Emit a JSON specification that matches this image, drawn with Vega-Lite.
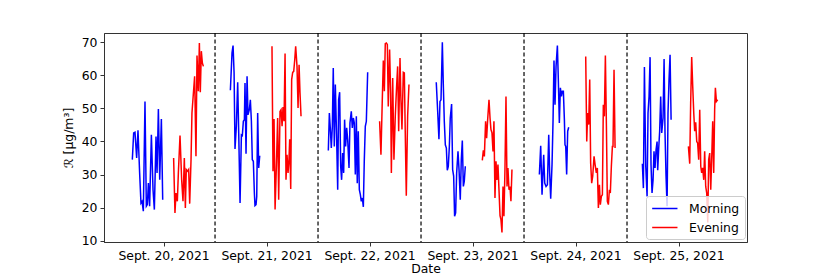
{
  "$schema": "https://vega.github.io/schema/vega-lite/v6.json",
  "width": 643,
  "height": 209,
  "autosize": {"type": "none"},
  "padding": {"left": 104, "top": 33, "right": 83, "bottom": 35},
  "background": "white",
  "config": {
    "font": "DejaVu Sans",
    "view": {"stroke": "#333", "strokeWidth": 1},
    "axis": {"labelFont": "DejaVu Sans", "titleFont": "DejaVu Sans", "labelFontSize": 12.4, "titleFontSize": 12.4, "labelColor": "#000", "titleColor": "#000", "titleFontWeight": "normal", "domainColor": "#333", "tickColor": "#333", "tickSize": 4, "grid": false, "labelPadding": 3}
  },
  "datasets": {
    "pts": [
      {"day": -0.303, "value": 34.5, "period": "Morning", "segment": "M1"},
      {"day": -0.290, "value": 42.6, "period": "Morning", "segment": "M1"},
      {"day": -0.277, "value": 42.8, "period": "Morning", "segment": "M1"},
      {"day": -0.261, "value": 35.0, "period": "Morning", "segment": "M1"},
      {"day": -0.248, "value": 43.4, "period": "Morning", "segment": "M1"},
      {"day": -0.232, "value": 30.5, "period": "Morning", "segment": "M1"},
      {"day": -0.219, "value": 21.4, "period": "Morning", "segment": "M1"},
      {"day": -0.209, "value": 21.9, "period": "Morning", "segment": "M1"},
      {"day": -0.196, "value": 18.9, "period": "Morning", "segment": "M1"},
      {"day": -0.180, "value": 52.1, "period": "Morning", "segment": "M1"},
      {"day": -0.167, "value": 20.4, "period": "Morning", "segment": "M1"},
      {"day": -0.157, "value": 20.9, "period": "Morning", "segment": "M1"},
      {"day": -0.147, "value": 27.4, "period": "Morning", "segment": "M1"},
      {"day": -0.135, "value": 20.4, "period": "Morning", "segment": "M1"},
      {"day": -0.118, "value": 42.0, "period": "Morning", "segment": "M1"},
      {"day": -0.102, "value": 25.4, "period": "Morning", "segment": "M1"},
      {"day": -0.089, "value": 19.4, "period": "Morning", "segment": "M1"},
      {"day": -0.073, "value": 41.5, "period": "Morning", "segment": "M1"},
      {"day": -0.063, "value": 30.5, "period": "Morning", "segment": "M1"},
      {"day": -0.050, "value": 49.8, "period": "Morning", "segment": "M1"},
      {"day": -0.037, "value": 28.4, "period": "Morning", "segment": "M1"},
      {"day": -0.021, "value": 46.8, "period": "Morning", "segment": "M1"},
      {"day": -0.008, "value": 22.4, "period": "Morning", "segment": "M1"},

      {"day": 0.098, "value": 35.0, "period": "Evening", "segment": "E1"},
      {"day": 0.111, "value": 18.4, "period": "Evening", "segment": "E1"},
      {"day": 0.121, "value": 24.4, "period": "Evening", "segment": "E1"},
      {"day": 0.134, "value": 21.9, "period": "Evening", "segment": "E1"},
      {"day": 0.144, "value": 30.5, "period": "Evening", "segment": "E1"},
      {"day": 0.160, "value": 41.8, "period": "Evening", "segment": "E1"},
      {"day": 0.176, "value": 28.4, "period": "Evening", "segment": "E1"},
      {"day": 0.189, "value": 21.9, "period": "Evening", "segment": "E1"},
      {"day": 0.202, "value": 35.0, "period": "Evening", "segment": "E1"},
      {"day": 0.212, "value": 19.9, "period": "Evening", "segment": "E1"},
      {"day": 0.221, "value": 31.5, "period": "Evening", "segment": "E1"},
      {"day": 0.234, "value": 31.0, "period": "Evening", "segment": "E1"},
      {"day": 0.244, "value": 31.5, "period": "Evening", "segment": "E1"},
      {"day": 0.254, "value": 21.2, "period": "Evening", "segment": "E1"},
      {"day": 0.267, "value": 34.5, "period": "Evening", "segment": "E1"},
      {"day": 0.276, "value": 48.6, "period": "Evening", "segment": "E1"},
      {"day": 0.289, "value": 54.2, "period": "Evening", "segment": "E1"},
      {"day": 0.302, "value": 59.7, "period": "Evening", "segment": "E1"},
      {"day": 0.315, "value": 35.5, "period": "Evening", "segment": "E1"},
      {"day": 0.325, "value": 66.0, "period": "Evening", "segment": "E1"},
      {"day": 0.338, "value": 55.2, "period": "Evening", "segment": "E1"},
      {"day": 0.348, "value": 69.8, "period": "Evening", "segment": "E1"},
      {"day": 0.357, "value": 54.9, "period": "Evening", "segment": "E1"},
      {"day": 0.367, "value": 67.3, "period": "Evening", "segment": "E1"},
      {"day": 0.377, "value": 63.7, "period": "Evening", "segment": "E1"},
      {"day": 0.387, "value": 62.7, "period": "Evening", "segment": "E1"},

      {"day": 0.649, "value": 55.5, "period": "Morning", "segment": "M2"},
      {"day": 0.665, "value": 66.8, "period": "Morning", "segment": "M2"},
      {"day": 0.675, "value": 69.0, "period": "Morning", "segment": "M2"},
      {"day": 0.685, "value": 60.7, "period": "Morning", "segment": "M2"},
      {"day": 0.694, "value": 37.7, "period": "Morning", "segment": "M2"},
      {"day": 0.707, "value": 44.6, "period": "Morning", "segment": "M2"},
      {"day": 0.720, "value": 57.9, "period": "Morning", "segment": "M2"},
      {"day": 0.730, "value": 42.6, "period": "Morning", "segment": "M2"},
      {"day": 0.743, "value": 21.4, "period": "Morning", "segment": "M2"},
      {"day": 0.756, "value": 42.0, "period": "Morning", "segment": "M2"},
      {"day": 0.765, "value": 41.8, "period": "Morning", "segment": "M2"},
      {"day": 0.775, "value": 46.1, "period": "Morning", "segment": "M2"},
      {"day": 0.785, "value": 46.6, "period": "Morning", "segment": "M2"},
      {"day": 0.791, "value": 57.7, "period": "Morning", "segment": "M2"},
      {"day": 0.801, "value": 36.3, "period": "Morning", "segment": "M2"},
      {"day": 0.811, "value": 59.7, "period": "Morning", "segment": "M2"},
      {"day": 0.820, "value": 48.1, "period": "Morning", "segment": "M2"},
      {"day": 0.833, "value": 49.6, "period": "Morning", "segment": "M2"},
      {"day": 0.843, "value": 52.6, "period": "Morning", "segment": "M2"},
      {"day": 0.853, "value": 46.1, "period": "Morning", "segment": "M2"},
      {"day": 0.862, "value": 34.5, "period": "Morning", "segment": "M2"},
      {"day": 0.872, "value": 34.0, "period": "Morning", "segment": "M2"},
      {"day": 0.882, "value": 24.4, "period": "Morning", "segment": "M2"},
      {"day": 0.888, "value": 20.6, "period": "Morning", "segment": "M2"},
      {"day": 0.898, "value": 20.9, "period": "Morning", "segment": "M2"},
      {"day": 0.905, "value": 23.4, "period": "Morning", "segment": "M2"},
      {"day": 0.914, "value": 48.6, "period": "Morning", "segment": "M2"},
      {"day": 0.924, "value": 32.0, "period": "Morning", "segment": "M2"},
      {"day": 0.934, "value": 35.7, "period": "Morning", "segment": "M2"},

      {"day": 1.053, "value": 68.8, "period": "Evening", "segment": "E2"},
      {"day": 1.063, "value": 31.0, "period": "Evening", "segment": "E2"},
      {"day": 1.073, "value": 46.8, "period": "Evening", "segment": "E2"},
      {"day": 1.083, "value": 19.4, "period": "Evening", "segment": "E2"},
      {"day": 1.096, "value": 33.0, "period": "Evening", "segment": "E2"},
      {"day": 1.108, "value": 47.1, "period": "Evening", "segment": "E2"},
      {"day": 1.118, "value": 22.4, "period": "Evening", "segment": "E2"},
      {"day": 1.131, "value": 49.1, "period": "Evening", "segment": "E2"},
      {"day": 1.141, "value": 49.6, "period": "Evening", "segment": "E2"},
      {"day": 1.151, "value": 44.6, "period": "Evening", "segment": "E2"},
      {"day": 1.160, "value": 50.4, "period": "Evening", "segment": "E2"},
      {"day": 1.170, "value": 46.1, "period": "Evening", "segment": "E2"},
      {"day": 1.180, "value": 66.6, "period": "Evening", "segment": "E2"},
      {"day": 1.189, "value": 28.4, "period": "Evening", "segment": "E2"},
      {"day": 1.199, "value": 36.0, "period": "Evening", "segment": "E2"},
      {"day": 1.209, "value": 30.5, "period": "Evening", "segment": "E2"},
      {"day": 1.218, "value": 34.5, "period": "Evening", "segment": "E2"},
      {"day": 1.225, "value": 40.7, "period": "Evening", "segment": "E2"},
      {"day": 1.235, "value": 25.6, "period": "Evening", "segment": "E2"},
      {"day": 1.244, "value": 58.7, "period": "Evening", "segment": "E2"},
      {"day": 1.254, "value": 60.9, "period": "Evening", "segment": "E2"},
      {"day": 1.264, "value": 61.2, "period": "Evening", "segment": "E2"},
      {"day": 1.274, "value": 64.7, "period": "Evening", "segment": "E2"},
      {"day": 1.283, "value": 68.8, "period": "Evening", "segment": "E2"},
      {"day": 1.296, "value": 62.7, "period": "Evening", "segment": "E2"},
      {"day": 1.306, "value": 50.1, "period": "Evening", "segment": "E2"},
      {"day": 1.316, "value": 63.2, "period": "Evening", "segment": "E2"},
      {"day": 1.325, "value": 54.7, "period": "Evening", "segment": "E2"},
      {"day": 1.335, "value": 47.6, "period": "Evening", "segment": "E2"},

      {"day": 1.600, "value": 37.3, "period": "Morning", "segment": "M3"},
      {"day": 1.610, "value": 48.6, "period": "Morning", "segment": "M3"},
      {"day": 1.619, "value": 44.1, "period": "Morning", "segment": "M3"},
      {"day": 1.629, "value": 38.0, "period": "Morning", "segment": "M3"},
      {"day": 1.639, "value": 44.6, "period": "Morning", "segment": "M3"},
      {"day": 1.648, "value": 62.2, "period": "Morning", "segment": "M3"},
      {"day": 1.658, "value": 38.5, "period": "Morning", "segment": "M3"},
      {"day": 1.668, "value": 57.2, "period": "Morning", "segment": "M3"},
      {"day": 1.681, "value": 40.5, "period": "Morning", "segment": "M3"},
      {"day": 1.691, "value": 25.4, "period": "Morning", "segment": "M3"},
      {"day": 1.700, "value": 52.6, "period": "Morning", "segment": "M3"},
      {"day": 1.710, "value": 54.9, "period": "Morning", "segment": "M3"},
      {"day": 1.720, "value": 32.5, "period": "Morning", "segment": "M3"},
      {"day": 1.729, "value": 28.4, "period": "Morning", "segment": "M3"},
      {"day": 1.739, "value": 36.5, "period": "Morning", "segment": "M3"},
      {"day": 1.749, "value": 30.5, "period": "Morning", "segment": "M3"},
      {"day": 1.758, "value": 46.6, "period": "Morning", "segment": "M3"},
      {"day": 1.768, "value": 38.5, "period": "Morning", "segment": "M3"},
      {"day": 1.778, "value": 44.1, "period": "Morning", "segment": "M3"},
      {"day": 1.788, "value": 40.5, "period": "Morning", "segment": "M3"},
      {"day": 1.801, "value": 32.0, "period": "Morning", "segment": "M3"},
      {"day": 1.810, "value": 45.6, "period": "Morning", "segment": "M3"},
      {"day": 1.823, "value": 49.1, "period": "Morning", "segment": "M3"},
      {"day": 1.833, "value": 44.1, "period": "Morning", "segment": "M3"},
      {"day": 1.843, "value": 47.1, "period": "Morning", "segment": "M3"},
      {"day": 1.852, "value": 45.6, "period": "Morning", "segment": "M3"},
      {"day": 1.862, "value": 30.0, "period": "Morning", "segment": "M3"},
      {"day": 1.872, "value": 47.6, "period": "Morning", "segment": "M3"},
      {"day": 1.881, "value": 27.4, "period": "Morning", "segment": "M3"},
      {"day": 1.891, "value": 43.1, "period": "Morning", "segment": "M3"},
      {"day": 1.901, "value": 25.4, "period": "Morning", "segment": "M3"},
      {"day": 1.911, "value": 23.9, "period": "Morning", "segment": "M3"},
      {"day": 1.920, "value": 21.9, "period": "Morning", "segment": "M3"},
      {"day": 1.930, "value": 22.9, "period": "Morning", "segment": "M3"},
      {"day": 1.940, "value": 20.2, "period": "Morning", "segment": "M3"},
      {"day": 1.949, "value": 34.0, "period": "Morning", "segment": "M3"},
      {"day": 1.959, "value": 44.6, "period": "Morning", "segment": "M3"},
      {"day": 1.969, "value": 46.1, "period": "Morning", "segment": "M3"},
      {"day": 1.982, "value": 60.9, "period": "Morning", "segment": "M3"},

      {"day": 2.098, "value": 46.1, "period": "Evening", "segment": "E3"},
      {"day": 2.111, "value": 36.0, "period": "Evening", "segment": "E3"},
      {"day": 2.124, "value": 52.6, "period": "Evening", "segment": "E3"},
      {"day": 2.134, "value": 64.5, "period": "Evening", "segment": "E3"},
      {"day": 2.144, "value": 55.2, "period": "Evening", "segment": "E3"},
      {"day": 2.153, "value": 69.6, "period": "Evening", "segment": "E3"},
      {"day": 2.163, "value": 69.8, "period": "Evening", "segment": "E3"},
      {"day": 2.173, "value": 69.3, "period": "Evening", "segment": "E3"},
      {"day": 2.182, "value": 50.6, "period": "Evening", "segment": "E3"},
      {"day": 2.195, "value": 67.8, "period": "Evening", "segment": "E3"},
      {"day": 2.205, "value": 54.7, "period": "Evening", "segment": "E3"},
      {"day": 2.212, "value": 30.5, "period": "Evening", "segment": "E3"},
      {"day": 2.225, "value": 59.2, "period": "Evening", "segment": "E3"},
      {"day": 2.237, "value": 34.5, "period": "Evening", "segment": "E3"},
      {"day": 2.250, "value": 47.6, "period": "Evening", "segment": "E3"},
      {"day": 2.263, "value": 56.7, "period": "Evening", "segment": "E3"},
      {"day": 2.273, "value": 62.7, "period": "Evening", "segment": "E3"},
      {"day": 2.283, "value": 43.1, "period": "Evening", "segment": "E3"},
      {"day": 2.296, "value": 65.2, "period": "Evening", "segment": "E3"},
      {"day": 2.305, "value": 52.6, "period": "Evening", "segment": "E3"},
      {"day": 2.315, "value": 43.6, "period": "Evening", "segment": "E3"},
      {"day": 2.328, "value": 60.9, "period": "Evening", "segment": "E3"},
      {"day": 2.338, "value": 60.7, "period": "Evening", "segment": "E3"},
      {"day": 2.347, "value": 42.6, "period": "Evening", "segment": "E3"},
      {"day": 2.357, "value": 23.6, "period": "Evening", "segment": "E3"},
      {"day": 2.370, "value": 47.6, "period": "Evening", "segment": "E3"},
      {"day": 2.383, "value": 57.2, "period": "Evening", "segment": "E3"},

      {"day": 2.648, "value": 57.9, "period": "Morning", "segment": "M4"},
      {"day": 2.661, "value": 49.6, "period": "Morning", "segment": "M4"},
      {"day": 2.674, "value": 40.7, "period": "Morning", "segment": "M4"},
      {"day": 2.684, "value": 52.1, "period": "Morning", "segment": "M4"},
      {"day": 2.694, "value": 52.6, "period": "Morning", "segment": "M4"},
      {"day": 2.707, "value": 70.0, "period": "Morning", "segment": "M4"},
      {"day": 2.716, "value": 57.7, "period": "Morning", "segment": "M4"},
      {"day": 2.726, "value": 46.1, "period": "Morning", "segment": "M4"},
      {"day": 2.736, "value": 39.0, "period": "Morning", "segment": "M4"},
      {"day": 2.746, "value": 38.0, "period": "Morning", "segment": "M4"},
      {"day": 2.755, "value": 31.3, "period": "Morning", "segment": "M4"},
      {"day": 2.765, "value": 32.5, "period": "Morning", "segment": "M4"},
      {"day": 2.775, "value": 38.5, "period": "Morning", "segment": "M4"},
      {"day": 2.784, "value": 47.1, "period": "Morning", "segment": "M4"},
      {"day": 2.797, "value": 51.3, "period": "Morning", "segment": "M4"},
      {"day": 2.807, "value": 31.5, "period": "Morning", "segment": "M4"},
      {"day": 2.817, "value": 29.5, "period": "Morning", "segment": "M4"},
      {"day": 2.826, "value": 17.4, "period": "Morning", "segment": "M4"},
      {"day": 2.836, "value": 18.4, "period": "Morning", "segment": "M4"},
      {"day": 2.846, "value": 30.5, "period": "Morning", "segment": "M4"},
      {"day": 2.859, "value": 37.0, "period": "Morning", "segment": "M4"},
      {"day": 2.869, "value": 31.5, "period": "Morning", "segment": "M4"},
      {"day": 2.881, "value": 22.4, "period": "Morning", "segment": "M4"},
      {"day": 2.891, "value": 34.5, "period": "Morning", "segment": "M4"},
      {"day": 2.901, "value": 40.3, "period": "Morning", "segment": "M4"},
      {"day": 2.911, "value": 26.4, "period": "Morning", "segment": "M4"},
      {"day": 2.920, "value": 27.9, "period": "Morning", "segment": "M4"},
      {"day": 2.930, "value": 32.5, "period": "Morning", "segment": "M4"},

      {"day": 3.095, "value": 34.3, "period": "Evening", "segment": "E4"},
      {"day": 3.105, "value": 37.3, "period": "Evening", "segment": "E4"},
      {"day": 3.115, "value": 35.5, "period": "Evening", "segment": "E4"},
      {"day": 3.127, "value": 46.1, "period": "Evening", "segment": "E4"},
      {"day": 3.137, "value": 41.0, "period": "Evening", "segment": "E4"},
      {"day": 3.147, "value": 46.6, "period": "Evening", "segment": "E4"},
      {"day": 3.160, "value": 52.6, "period": "Evening", "segment": "E4"},
      {"day": 3.170, "value": 47.1, "period": "Evening", "segment": "E4"},
      {"day": 3.179, "value": 43.6, "period": "Evening", "segment": "E4"},
      {"day": 3.189, "value": 42.6, "period": "Evening", "segment": "E4"},
      {"day": 3.199, "value": 37.0, "period": "Evening", "segment": "E4"},
      {"day": 3.208, "value": 46.1, "period": "Evening", "segment": "E4"},
      {"day": 3.218, "value": 22.9, "period": "Evening", "segment": "E4"},
      {"day": 3.228, "value": 34.0, "period": "Evening", "segment": "E4"},
      {"day": 3.237, "value": 28.4, "period": "Evening", "segment": "E4"},
      {"day": 3.247, "value": 33.0, "period": "Evening", "segment": "E4"},
      {"day": 3.257, "value": 25.4, "period": "Evening", "segment": "E4"},
      {"day": 3.267, "value": 17.6, "period": "Evening", "segment": "E4"},
      {"day": 3.276, "value": 16.4, "period": "Evening", "segment": "E4"},
      {"day": 3.286, "value": 12.5, "period": "Evening", "segment": "E4"},
      {"day": 3.296, "value": 26.4, "period": "Evening", "segment": "E4"},
      {"day": 3.305, "value": 17.4, "period": "Evening", "segment": "E4"},
      {"day": 3.315, "value": 31.5, "period": "Evening", "segment": "E4"},
      {"day": 3.325, "value": 53.6, "period": "Evening", "segment": "E4"},
      {"day": 3.335, "value": 26.4, "period": "Evening", "segment": "E4"},
      {"day": 3.344, "value": 32.0, "period": "Evening", "segment": "E4"},
      {"day": 3.354, "value": 25.4, "period": "Evening", "segment": "E4"},
      {"day": 3.364, "value": 26.4, "period": "Evening", "segment": "E4"},
      {"day": 3.373, "value": 21.9, "period": "Evening", "segment": "E4"},
      {"day": 3.383, "value": 31.5, "period": "Evening", "segment": "E4"},

      {"day": 3.649, "value": 30.0, "period": "Morning", "segment": "M5"},
      {"day": 3.662, "value": 38.7, "period": "Morning", "segment": "M5"},
      {"day": 3.675, "value": 23.9, "period": "Morning", "segment": "M5"},
      {"day": 3.691, "value": 36.0, "period": "Morning", "segment": "M5"},
      {"day": 3.701, "value": 27.4, "period": "Morning", "segment": "M5"},
      {"day": 3.714, "value": 26.4, "period": "Morning", "segment": "M5"},
      {"day": 3.727, "value": 26.9, "period": "Morning", "segment": "M5"},
      {"day": 3.740, "value": 42.0, "period": "Morning", "segment": "M5"},
      {"day": 3.749, "value": 30.5, "period": "Morning", "segment": "M5"},
      {"day": 3.759, "value": 22.7, "period": "Morning", "segment": "M5"},
      {"day": 3.772, "value": 33.0, "period": "Morning", "segment": "M5"},
      {"day": 3.782, "value": 46.6, "period": "Morning", "segment": "M5"},
      {"day": 3.791, "value": 64.5, "period": "Morning", "segment": "M5"},
      {"day": 3.801, "value": 51.1, "period": "Morning", "segment": "M5"},
      {"day": 3.811, "value": 62.7, "period": "Morning", "segment": "M5"},
      {"day": 3.824, "value": 69.0, "period": "Morning", "segment": "M5"},
      {"day": 3.834, "value": 57.7, "period": "Morning", "segment": "M5"},
      {"day": 3.843, "value": 45.6, "period": "Morning", "segment": "M5"},
      {"day": 3.853, "value": 56.2, "period": "Morning", "segment": "M5"},
      {"day": 3.863, "value": 53.6, "period": "Morning", "segment": "M5"},
      {"day": 3.872, "value": 55.2, "period": "Morning", "segment": "M5"},
      {"day": 3.882, "value": 55.2, "period": "Morning", "segment": "M5"},
      {"day": 3.892, "value": 46.6, "period": "Morning", "segment": "M5"},
      {"day": 3.898, "value": 39.0, "period": "Morning", "segment": "M5"},
      {"day": 3.905, "value": 38.5, "period": "Morning", "segment": "M5"},
      {"day": 3.914, "value": 30.0, "period": "Morning", "segment": "M5"},
      {"day": 3.924, "value": 43.1, "period": "Morning", "segment": "M5"},
      {"day": 3.934, "value": 44.3, "period": "Morning", "segment": "M5"},

      {"day": 4.099, "value": 65.7, "period": "Evening", "segment": "E5"},
      {"day": 4.109, "value": 40.0, "period": "Evening", "segment": "E5"},
      {"day": 4.118, "value": 48.6, "period": "Evening", "segment": "E5"},
      {"day": 4.128, "value": 45.1, "period": "Evening", "segment": "E5"},
      {"day": 4.138, "value": 58.7, "period": "Evening", "segment": "E5"},
      {"day": 4.147, "value": 33.5, "period": "Evening", "segment": "E5"},
      {"day": 4.157, "value": 27.4, "period": "Evening", "segment": "E5"},
      {"day": 4.167, "value": 29.5, "period": "Evening", "segment": "E5"},
      {"day": 4.180, "value": 35.5, "period": "Evening", "segment": "E5"},
      {"day": 4.190, "value": 33.0, "period": "Evening", "segment": "E5"},
      {"day": 4.202, "value": 30.5, "period": "Evening", "segment": "E5"},
      {"day": 4.212, "value": 32.0, "period": "Evening", "segment": "E5"},
      {"day": 4.222, "value": 19.9, "period": "Evening", "segment": "E5"},
      {"day": 4.232, "value": 26.9, "period": "Evening", "segment": "E5"},
      {"day": 4.241, "value": 20.9, "period": "Evening", "segment": "E5"},
      {"day": 4.251, "value": 23.4, "period": "Evening", "segment": "E5"},
      {"day": 4.261, "value": 23.9, "period": "Evening", "segment": "E5"},
      {"day": 4.270, "value": 51.1, "period": "Evening", "segment": "E5"},
      {"day": 4.280, "value": 47.6, "period": "Evening", "segment": "E5"},
      {"day": 4.290, "value": 66.0, "period": "Evening", "segment": "E5"},
      {"day": 4.300, "value": 44.6, "period": "Evening", "segment": "E5"},
      {"day": 4.309, "value": 21.9, "period": "Evening", "segment": "E5"},
      {"day": 4.319, "value": 20.9, "period": "Evening", "segment": "E5"},
      {"day": 4.329, "value": 25.4, "period": "Evening", "segment": "E5"},
      {"day": 4.338, "value": 24.4, "period": "Evening", "segment": "E5"},
      {"day": 4.348, "value": 32.5, "period": "Evening", "segment": "E5"},
      {"day": 4.358, "value": 38.5, "period": "Evening", "segment": "E5"},
      {"day": 4.364, "value": 38.5, "period": "Evening", "segment": "E5"},
      {"day": 4.374, "value": 61.7, "period": "Evening", "segment": "E5"},
      {"day": 4.384, "value": 38.0, "period": "Evening", "segment": "E5"},

      {"day": 4.649, "value": 33.3, "period": "Morning", "segment": "M6"},
      {"day": 4.659, "value": 25.9, "period": "Morning", "segment": "M6"},
      {"day": 4.669, "value": 62.5, "period": "Morning", "segment": "M6"},
      {"day": 4.682, "value": 32.5, "period": "Morning", "segment": "M6"},
      {"day": 4.695, "value": 23.4, "period": "Morning", "segment": "M6"},
      {"day": 4.704, "value": 48.6, "period": "Morning", "segment": "M6"},
      {"day": 4.714, "value": 53.6, "period": "Morning", "segment": "M6"},
      {"day": 4.724, "value": 65.5, "period": "Morning", "segment": "M6"},
      {"day": 4.733, "value": 33.0, "period": "Morning", "segment": "M6"},
      {"day": 4.743, "value": 24.4, "period": "Morning", "segment": "M6"},
      {"day": 4.753, "value": 28.4, "period": "Morning", "segment": "M6"},
      {"day": 4.762, "value": 37.0, "period": "Morning", "segment": "M6"},
      {"day": 4.772, "value": 32.0, "period": "Morning", "segment": "M6"},
      {"day": 4.782, "value": 37.5, "period": "Morning", "segment": "M6"},
      {"day": 4.792, "value": 40.0, "period": "Morning", "segment": "M6"},
      {"day": 4.798, "value": 31.3, "period": "Morning", "segment": "M6"},
      {"day": 4.808, "value": 38.0, "period": "Morning", "segment": "M6"},
      {"day": 4.817, "value": 43.1, "period": "Morning", "segment": "M6"},
      {"day": 4.827, "value": 53.6, "period": "Morning", "segment": "M6"},
      {"day": 4.837, "value": 42.6, "period": "Morning", "segment": "M6"},
      {"day": 4.850, "value": 47.1, "period": "Morning", "segment": "M6"},
      {"day": 4.860, "value": 64.9, "period": "Morning", "segment": "M6"},
      {"day": 4.869, "value": 42.6, "period": "Morning", "segment": "M6"},
      {"day": 4.879, "value": 29.5, "period": "Morning", "segment": "M6"},
      {"day": 4.889, "value": 20.4, "period": "Morning", "segment": "M6"},
      {"day": 4.898, "value": 48.6, "period": "Morning", "segment": "M6"},
      {"day": 4.908, "value": 58.7, "period": "Morning", "segment": "M6"},
      {"day": 4.918, "value": 66.2, "period": "Morning", "segment": "M6"},
      {"day": 4.928, "value": 46.6, "period": "Morning", "segment": "M6"},

      {"day": 5.096, "value": 38.5, "period": "Evening", "segment": "E6"},
      {"day": 5.109, "value": 33.3, "period": "Evening", "segment": "E6"},
      {"day": 5.118, "value": 51.6, "period": "Evening", "segment": "E6"},
      {"day": 5.128, "value": 65.5, "period": "Evening", "segment": "E6"},
      {"day": 5.138, "value": 56.7, "period": "Evening", "segment": "E6"},
      {"day": 5.148, "value": 48.6, "period": "Evening", "segment": "E6"},
      {"day": 5.157, "value": 43.1, "period": "Evening", "segment": "E6"},
      {"day": 5.167, "value": 45.8, "period": "Evening", "segment": "E6"},
      {"day": 5.177, "value": 40.0, "period": "Evening", "segment": "E6"},
      {"day": 5.186, "value": 39.5, "period": "Evening", "segment": "E6"},
      {"day": 5.196, "value": 34.5, "period": "Evening", "segment": "E6"},
      {"day": 5.206, "value": 49.6, "period": "Evening", "segment": "E6"},
      {"day": 5.216, "value": 32.5, "period": "Evening", "segment": "E6"},
      {"day": 5.225, "value": 30.5, "period": "Evening", "segment": "E6"},
      {"day": 5.235, "value": 32.0, "period": "Evening", "segment": "E6"},
      {"day": 5.245, "value": 28.4, "period": "Evening", "segment": "E6"},
      {"day": 5.254, "value": 37.0, "period": "Evening", "segment": "E6"},
      {"day": 5.264, "value": 26.4, "period": "Evening", "segment": "E6"},
      {"day": 5.274, "value": 24.4, "period": "Evening", "segment": "E6"},
      {"day": 5.284, "value": 15.5, "period": "Evening", "segment": "E6"},
      {"day": 5.293, "value": 34.5, "period": "Evening", "segment": "E6"},
      {"day": 5.303, "value": 36.5, "period": "Evening", "segment": "E6"},
      {"day": 5.313, "value": 25.4, "period": "Evening", "segment": "E6"},
      {"day": 5.322, "value": 34.5, "period": "Evening", "segment": "E6"},
      {"day": 5.332, "value": 46.1, "period": "Evening", "segment": "E6"},
      {"day": 5.342, "value": 30.5, "period": "Evening", "segment": "E6"},
      {"day": 5.351, "value": 49.6, "period": "Evening", "segment": "E6"},
      {"day": 5.358, "value": 56.2, "period": "Evening", "segment": "E6"},
      {"day": 5.368, "value": 52.1, "period": "Evening", "segment": "E6"},
      {"day": 5.380, "value": 52.6, "period": "Evening", "segment": "E6"}
    ],
    "dividers": [
      {"day": 0.5}, {"day": 1.5}, {"day": 2.5}, {"day": 3.5}, {"day": 4.5}
    ]
  },
  "layer": [
    {
      "data": {"name": "dividers"},
      "mark": {"type": "rule", "color": "#000", "strokeWidth": 1.2, "strokeDash": [4, 2.5]},
      "encoding": {
        "x": {"field": "day", "type": "quantitative"}
      }
    },
    {
      "data": {"name": "pts"},
      "mark": {"type": "line", "strokeWidth": 1.5, "clip": true},
      "encoding": {
        "x": {
          "field": "day", "type": "quantitative",
          "scale": {"domain": [-0.578, 5.665], "nice": false, "zero": false},
          "axis": {"title": "Date", "values": [0, 1, 2, 3, 4, 5], "labelExpr": "'Sept. ' + (20 + datum.value) + ', 2021'", "titlePadding": 1}
        },
        "y": {
          "field": "value", "type": "quantitative",
          "scale": {"domain": [9.6, 72.8], "nice": false, "zero": false},
          "axis": {"title": "ℛ [μg/m³]", "values": [10, 20, 30, 40, 50, 60, 70], "titlePadding": 6}
        },
        "color": {
          "field": "period", "type": "nominal",
          "scale": {"domain": ["Morning", "Evening"], "range": ["#0000ff", "#ff0000"]},
          "legend": {
            "title": null, "orient": "none", "legendX": 542, "legendY": 163,
            "symbolType": "M-1,0H3", "symbolSize": 160, "symbolStrokeWidth": 1.5,
            "symbolFillColor": "transparent",
            "labelFontSize": 12.4, "labelFont": "DejaVu Sans", "labelColor": "#000",
            "fillColor": "rgba(255,255,255,0.8)", "strokeColor": "#ccc", "cornerRadius": 3,
            "padding": 5, "rowPadding": 5, "labelOffset": 23
          }
        },
        "detail": {"field": "segment", "type": "nominal"},
        "order": {"field": "day", "type": "quantitative"}
      }
    }
  ]
}
